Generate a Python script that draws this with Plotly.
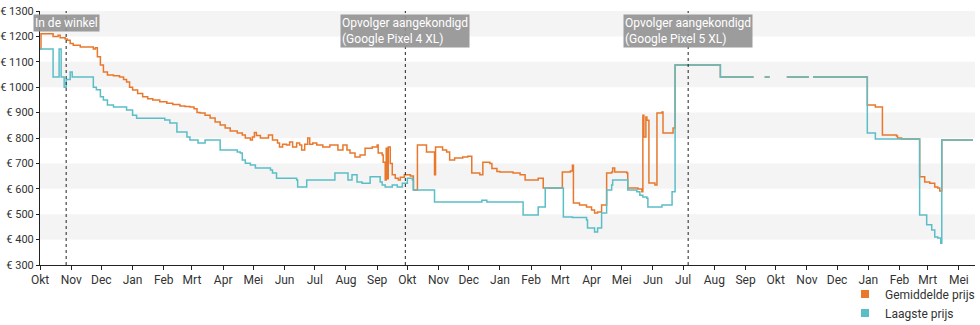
import plotly.graph_objects as go

# Gemiddelde prijs (average price), step series; None marks a gap in the data
avg_dates = [
    "2018-10-01", "2018-10-02", "2018-10-14", "2018-10-19", "2018-10-21", "2018-10-26",
    "2018-10-28", "2018-10-31", "2018-11-03", "2018-11-10", "2018-11-23", "2018-11-25",
    "2018-11-27", "2018-11-30", "2018-12-03", "2018-12-07", "2018-12-13", "2018-12-19",
    "2018-12-23", "2018-12-26", "2018-12-29", "2019-01-01", "2019-01-06", "2019-01-11",
    "2019-01-16", "2019-01-21", "2019-01-28", "2019-02-04", "2019-02-10", "2019-02-17",
    "2019-02-22", "2019-02-27", "2019-03-03", "2019-03-06", "2019-03-09", "2019-03-14",
    "2019-03-19", "2019-03-24", "2019-03-29", "2019-04-03", "2019-04-08", "2019-04-15",
    "2019-04-20", "2019-04-23", "2019-04-28", "2019-04-30", "2019-05-02", "2019-05-04",
    "2019-05-08", "2019-05-16", "2019-05-20", "2019-05-25", "2019-05-27", "2019-05-30",
    "2019-06-03", "2019-06-06", "2019-06-09", "2019-06-13", "2019-06-16", "2019-06-18",
    "2019-06-21", "2019-06-24", "2019-06-26", "2019-06-29", "2019-07-03", "2019-07-09",
    "2019-07-16", "2019-07-24", "2019-07-29", "2019-08-02", "2019-08-05", "2019-08-10",
    "2019-08-15", "2019-08-20", "2019-08-27", "2019-09-01", "2019-09-02", "2019-09-06",
    "2019-09-07", "2019-09-09", "2019-09-10", "2019-09-11", "2019-09-12", "2019-09-14",
    "2019-09-16", "2019-09-19", "2019-09-22", "2019-09-24", "2019-09-28", "2019-10-04",
    "2019-10-07", "2019-10-11", "2019-10-20", "2019-10-28", "2019-10-29", "2019-11-05",
    "2019-11-09", "2019-11-12", "2019-11-17", "2019-11-25", "2019-11-30", "2019-12-04",
    "2019-12-12", "2019-12-15", "2019-12-22", "2019-12-24", "2019-12-29", "2020-01-01",
    "2020-01-14", "2020-01-21", "2020-01-26", "2020-02-08", "2020-02-13", "2020-03-03",
    "2020-03-11", "2020-03-13", "2020-03-14", "2020-03-20", "2020-03-27", "2020-04-01",
    "2020-04-04", "2020-04-07", "2020-04-11", "2020-04-16", "2020-04-21", "2020-04-22",
    "2020-04-24", "2020-05-06", "2020-05-07", "2020-05-17", "2020-05-21", "2020-05-22",
    "2020-05-23", "2020-05-25", "2020-05-26", "2020-05-28", "2020-06-03", "2020-06-05",
    "2020-06-10", "2020-06-11", "2020-06-21", "2020-06-23", "2020-08-07", "2020-09-09",
    "2020-09-10", "2020-09-20", "2020-09-25", "2020-09-26", "2020-10-12", "2020-11-03",
    "2020-11-04", "2020-11-07", "2020-12-31", "2021-01-08", "2021-01-15", "2021-01-29",
    "2021-01-30", "2021-02-03", "2021-02-21", "2021-02-26", "2021-03-03", "2021-03-08",
    "2021-03-11", "2021-03-13", "2021-03-15", "2021-04-15",
]
avg_prices = [
    1150, 1210, 1200, 1205, 1195, 1190,
    1185, 1172, 1165, 1158, 1150, 1155,
    1120, 1087, 1060, 1048, 1045, 1040,
    1030, 1020, 1000, 989, 975, 962,
    955, 950, 943, 937, 932, 926,
    924, 922, 915, 900, 898, 890,
    879, 863, 851, 839, 828, 820,
    812, 800, 792, 804, 822, 810,
    800, 812, 792, 780, 765, 775,
    772, 784, 765, 780, 772, 753,
    775, 800, 775, 780, 772, 765,
    772, 753, 772, 753, 741, 725,
    733, 760, 765, 772, 741, 733,
    705, 635, 760, 640, 765, 700,
    655, 642, 635, 645, 655, 650,
    595, 772, 745, 655, 765, 753,
    745, 713, 721, 725, 728, 662,
    655, 705, 700, 680, 668, 666,
    662, 655, 635, 642, 603, 666,
    670, 693, 544, 536, 528, 517,
    505, 509, 536, 662, 666, 682,
    666, 662, 603, 599, 588, 890,
    804, 883, 870, 623, 615, 898,
    902, 820, 839, 1087, 1040, 1040,
    None, 1040, 1040, None, 1040, 1040,
    None, 1040, 930, 922, 812, 808,
    800, 796, 647, 627, 622, 607,
    603, 591, 792, 792,
]

# Laagste prijs (lowest price)
low_dates = [
    "2018-10-01", "2018-10-14", "2018-10-20", "2018-10-22", "2018-10-25", "2018-10-27",
    "2018-10-31", "2018-11-02", "2018-11-23", "2018-11-26", "2018-11-30", "2018-12-03",
    "2018-12-07", "2018-12-13", "2018-12-26", "2019-01-01", "2019-01-05", "2019-02-02",
    "2019-02-07", "2019-02-14", "2019-02-24", "2019-02-27", "2019-03-07", "2019-03-14",
    "2019-03-29", "2019-04-15", "2019-04-18", "2019-04-20", "2019-04-23", "2019-04-28",
    "2019-05-03", "2019-05-18", "2019-05-20", "2019-05-24", "2019-06-13", "2019-06-14",
    "2019-06-23", "2019-07-21", "2019-08-03", "2019-08-07", "2019-08-12", "2019-08-17",
    "2019-08-25", "2019-09-04", "2019-09-06", "2019-09-09", "2019-09-16", "2019-09-21",
    "2019-09-26", "2019-10-01", "2019-10-06", "2019-10-07", "2019-10-28", "2019-12-14",
    "2019-12-19", "2020-01-24", "2020-02-08", "2020-02-15", "2020-03-04", "2020-03-13",
    "2020-03-27", "2020-03-28", "2020-04-04", "2020-04-07", "2020-04-11", "2020-04-16",
    "2020-04-21", "2020-04-22", "2020-05-07", "2020-05-16", "2020-05-19", "2020-05-22",
    "2020-05-26", "2020-05-27", "2020-06-10", "2020-06-20", "2020-06-23", "2020-08-07",
    "2020-09-09", "2020-09-10", "2020-09-20", "2020-09-25", "2020-09-26", "2020-10-12",
    "2020-11-03", "2020-11-04", "2020-11-07", "2020-12-31", "2021-01-08", "2021-02-21",
    "2021-02-28", "2021-03-05", "2021-03-08", "2021-03-11", "2021-03-14", "2021-03-15",
    "2021-04-15",
]
low_prices = [
    1150, 1040, 1150, 1040, 1000, 1030,
    1060, 1040, 1000, 990, 962, 950,
    930, 922, 910, 890, 878, 871,
    859, 824, 804, 792, 780, 792,
    753, 745, 741, 713, 701, 694,
    682, 674, 662, 642, 635, 607,
    635, 662, 635, 655, 627, 622,
    647, 627, 615, 607, 615, 607,
    622, 642, 635, 595, 548, 555,
    548, 497, 528, 603, 489, 487,
    477, 446, 430, 446, 505, 595,
    615, 635, 595, 588, 575, 568,
    563, 528, 536, 588, 1087, 1040,
    1040, None, 1040, 1040, None, 1040,
    1040, None, 1040, 820, 796, 497,
    458, 438, 410, 406, 386, 792,
    792,
]

# Marked events (dotted vertical lines with a label box)
event_dates = ["2018-10-27", "2019-09-29", "2020-07-06"]
event_labels = [
    "In de winkel",
    "Opvolger aangekondigd<br>(Google Pixel 4 XL)",
    "Opvolger aangekondigd<br>(Google Pixel 5 XL)",
]

# Month ticks along the x axis
tick_dates = [
    "2018-10-01", "2018-11-01", "2018-12-01", "2019-01-01", "2019-02-01", "2019-03-01",
    "2019-04-01", "2019-05-01", "2019-06-01", "2019-07-01", "2019-08-01", "2019-09-01",
    "2019-10-01", "2019-11-01", "2019-12-01", "2020-01-01", "2020-02-01", "2020-03-01",
    "2020-04-01", "2020-05-01", "2020-06-01", "2020-07-01", "2020-08-01", "2020-09-01",
    "2020-10-01", "2020-11-01", "2020-12-01", "2021-01-01", "2021-02-01", "2021-03-01",
    "2021-04-01",
]
tick_labels = [
    "Okt", "Nov", "Dec", "Jan", "Feb", "Mrt", "Apr", "Mei", "Jun", "Jul", "Aug", "Sep",
    "Okt", "Nov", "Dec", "Jan", "Feb", "Mrt", "Apr", "Mei", "Jun", "Jul", "Aug", "Sep",
    "Okt", "Nov", "Dec", "Jan", "Feb", "Mrt", "Mei",
]

ORANGE = "#e8782c"
TEAL = "#5bbec6"
TEXT = "#333333"

fig = go.Figure()

fig.add_trace(go.Scatter(
    x=avg_dates, y=avg_prices, mode="lines", name="Gemiddelde prijs",
    line=dict(color=ORANGE, width=1.5, shape="hv"), connectgaps=False,
    showlegend=False, hoverinfo="skip",
))
fig.add_trace(go.Scatter(
    x=low_dates, y=low_prices, mode="lines", name="Laagste prijs",
    line=dict(color=TEAL, width=1.5, shape="hv"), connectgaps=False,
    showlegend=False, hoverinfo="skip",
))
# Legend entries with square swatches
for name, color in (("Gemiddelde prijs", ORANGE), ("Laagste prijs", TEAL)):
    fig.add_trace(go.Scatter(
        x=[None], y=[None], mode="markers", name=name,
        marker=dict(symbol="square", size=8, color=color),
    ))

# Alternating horizontal bands
shapes = []
for lo in range(400, 1300, 200):
    shapes.append(dict(
        type="rect", xref="paper", x0=0, x1=1, yref="y", y0=lo, y1=lo + 100,
        fillcolor="#f4f4f4", line=dict(width=0), layer="below",
    ))
for d in event_dates:
    shapes.append(dict(
        type="line", xref="x", x0=d, x1=d, yref="paper", y0=0, y1=1,
        line=dict(color="#222222", width=1, dash="dot"),
    ))

annotations = []
for d, label in zip(event_dates, event_labels):
    annotations.append(dict(
        x=d, xref="x", y=1, yref="paper", yanchor="top", xanchor="center",
        yshift=-3, text=label, showarrow=False, align="left",
        font=dict(color="white", size=12, family="Roboto"),
        bgcolor="rgba(148,148,148,0.92)", borderpad=1,
    ))

fig.update_layout(
    width=980, height=325,
    margin=dict(l=40, r=5, t=11, b=60, autoexpand=False),
    paper_bgcolor="white", plot_bgcolor="white",
    font=dict(family="Roboto", size=12, color=TEXT),
    shapes=shapes, annotations=annotations,
    showlegend=True,
    legend=dict(
        x=1, xanchor="right", xref="container",
        y=0.14, yanchor="top", yref="container",
        bgcolor="rgba(0,0,0,0)", font=dict(size=12, color=TEXT),
        itemwidth=30, tracegroupgap=0,
    ),
    hovermode=False,
)
fig.update_xaxes(
    type="date", range=["2018-10-01", "2021-04-17"],
    tickvals=tick_dates, ticktext=tick_labels, automargin=False,
    showgrid=False, zeroline=False, showline=True, linecolor="#222222", linewidth=1,
    ticks="outside", ticklen=4, tickcolor="#222222",
    tickfont=dict(size=12, color=TEXT),
)
fig.update_yaxes(
    range=[300, 1300], dtick=100, tickprefix="€ ", automargin=False,
    showgrid=False, zeroline=False, showline=True, linecolor="#222222", linewidth=1,
    ticks="outside", ticklen=3, tickcolor="#222222",
    tickfont=dict(size=11, color=TEXT),
)

fig.write_html("out.html", config={"displayModeBar": False})
